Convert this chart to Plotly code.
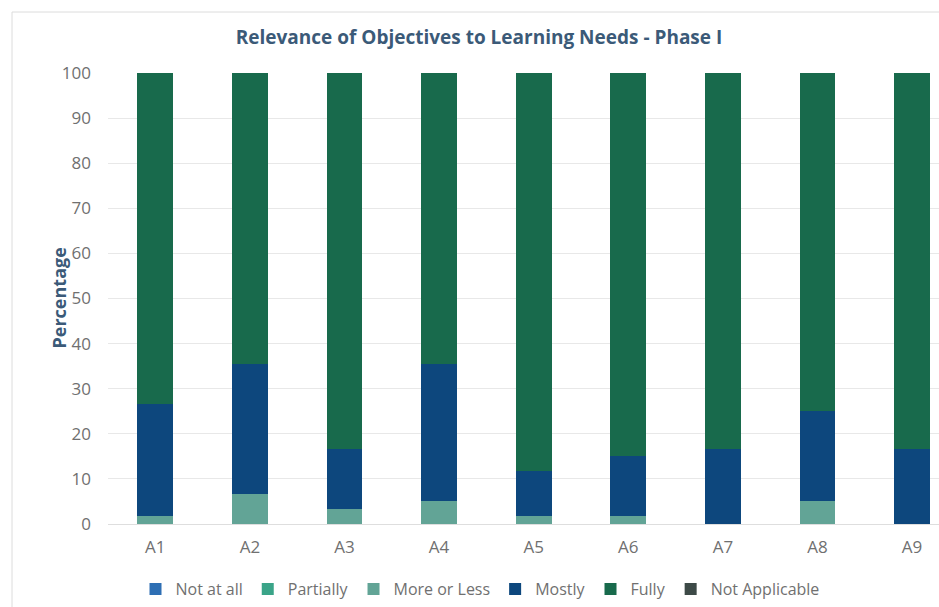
import plotly.graph_objects as go

# Survey responses (percent of respondents) per activity
categories = ["A1", "A2", "A3", "A4", "A5", "A6", "A7", "A8", "A9"]
not_at_all = [0, 0, 0, 0, 0, 0, 0, 0, 0]
partially = [0, 0, 0, 0, 0, 0, 0, 0, 0]
more_or_less = [1.67, 6.67, 3.33, 5.0, 1.67, 1.67, 0, 5.0, 0]
mostly = [25.0, 28.83, 13.33, 30.5, 10.0, 13.33, 16.67, 20.0, 16.67]
fully = [73.33, 64.5, 83.34, 64.5, 88.33, 85.0, 83.33, 75.0, 83.33]
not_applicable = [0, 0, 0, 0, 0, 0, 0, 0, 0]

series = [
    ("Not at all", not_at_all, "#2e6fb4"),
    ("Partially", partially, "#3aa488"),
    ("More or Less", more_or_less, "#62a496"),
    ("Mostly", mostly, "#0d477d"),
    ("Fully", fully, "#186a4c"),
    ("Not Applicable", not_applicable, "#3d4a47"),
]

FONT = "'Open Sans', sans-serif"
TITLE_COLOR = "#3b5a78"
TEXT_GRAY = "#707070"

fig = go.Figure()
for name, vals, color in series:
    fig.add_trace(go.Bar(
        x=categories, y=vals, name=name,
        marker=dict(color=color, line=dict(width=0)),
        width=0.38,
    ))

W, H = 939, 607
L, R, T, B = 108, 0, 73, 83
pw, ph = W - L - R, H - T - B

fig.update_layout(
    width=W, height=H,
    barmode="stack",
    plot_bgcolor="white",
    paper_bgcolor="white",
    margin=dict(l=L, r=R, t=T, b=B),
    font=dict(family=FONT, size=17, color=TEXT_GRAY),
    title=dict(
        text="<b>Relevance of Objectives to Learning Needs - Phase I</b>",
        x=479 / W, xref="container", xanchor="center",
        y=1 - 37 / H, yref="container", yanchor="middle",
        font=dict(family=FONT, size=19, color=TITLE_COLOR),
    ),
    xaxis=dict(
        range=[-0.5, -0.5 + pw / 94.6],
        showgrid=False, zeroline=False,
        showline=True, linecolor="#dedede", linewidth=1,
        ticks="", ticklabelstandoff=8,
        tickfont=dict(size=17, color=TEXT_GRAY),
    ),
    yaxis=dict(
        range=[0, 100], dtick=10,
        showgrid=True, gridcolor="#e8e8e8", gridwidth=1,
        zeroline=False, showline=False,
        ticks="", ticklabelstandoff=16,
        tickfont=dict(size=17, color=TEXT_GRAY),
    ),
    legend=dict(
        orientation="h",
        x=(480 - L) / pw, xanchor="center",
        y=(H - B - 589) / ph, yanchor="middle",
        font=dict(size=16, color=TEXT_GRAY),
        itemwidth=30, traceorder="normal",
    ),
    annotations=[dict(
        text="<b>Percentage</b>",
        xref="paper", yref="paper",
        x=(44 - L) / pw, y=0.5,
        textangle=-90, showarrow=False,
        font=dict(family=FONT, size=18, color=TITLE_COLOR),
    )],
    shapes=[dict(
        type="rect", xref="paper", yref="paper",
        x0=(12 - L) / pw, x1=1.02,
        y0=(H - B - 612) / ph, y1=(H - B - 12) / ph,
        line=dict(color="#dcdcdc", width=1),
        fillcolor="rgba(0,0,0,0)", layer="below",
    )],
    showlegend=True,
)

fig.write_html("out.html")
